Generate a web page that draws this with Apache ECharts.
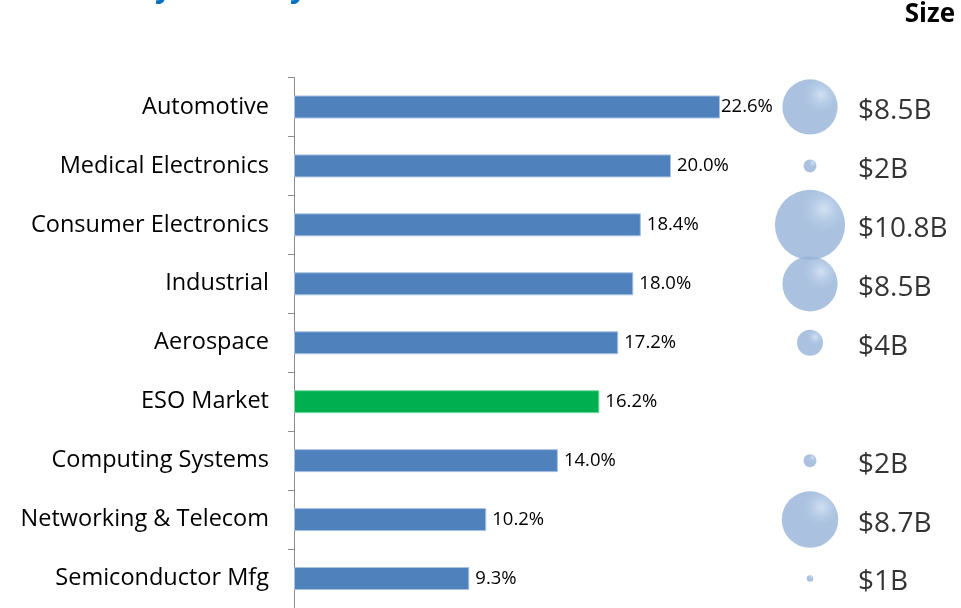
<!DOCTYPE html>
<html>
<head>
<meta charset="utf-8">
<script src="https://cdn.jsdelivr.net/npm/echarts@6/dist/echarts.min.js"></script>
<style>
  html, body { margin: 0; padding: 0; background: #fff; }
  #chart { width: 961px; height: 608px; }
</style>
</head>
<body>
<div id="chart"></div>
<script>
// Industry segments, top to bottom
const categories = [
  'Automotive', 'Medical Electronics', 'Consumer Electronics', 'Industrial',
  'Aerospace', 'ESO Market', 'Computing Systems', 'Networking & Telecom',
  'Semiconductor Mfg'
];
// Growth rate per segment (%)
const growthRates = [22.6, 20.0, 18.4, 18.0, 17.2, 16.2, 14.0, 10.2, 9.3];
// Market size per segment ($B); the ESO Market row has no size bubble
const marketSizes = [8.5, 2, 10.8, 8.5, 4, null, 2, 8.7, 1];
const sizeLabels = ['$8.5B', '$2B', '$10.8B', '$8.5B', '$4B', '', '$2B', '$8.7B', '$1B'];
const highlightCategory = 'ESO Market';

const FONT = '"Open Sans", Lato, sans-serif';
const BAR_BLUE = '#4F81BD';
const BAR_GREEN = '#00B050';

const chart = echarts.init(document.getElementById('chart'), null, { renderer: 'canvas' });

// glossy bubble: flat fill with a small soft highlight towards the upper right
const bubbleFill = new echarts.graphic.RadialGradient(0.7, 0.28, 0.32, [
  { offset: 0, color: '#c6d9ef' },
  { offset: 0.55, color: '#a2bddf' },
  { offset: 1, color: '#95B3D7' }
]);

// bubble rows, skipping segments without a size
const bubbleData = [];
marketSizes.forEach((v, i) => {
  if (v != null) bubbleData.push({ value: [1, categories[i], v], text: sizeLabels[i] });
});

const option = {
  animation: false,
  backgroundColor: '#ffffff',
  graphic: [
    {
      type: 'text',
      x: 16,
      y: -27,
      style: {
        text: 'Growth by Industry',
        font: 'bold 30px ' + FONT,
        fill: '#0070C0'
      }
    },
    {
      type: 'text',
      right: 6,
      top: 2,
      style: { text: 'Size', font: 'bold 26px ' + FONT, fill: '#000' }
    }
  ],
  grid: [
    { left: 294, top: 77.5, width: 565.5, height: 533 },
    { left: 780, top: 77.5, width: 60, height: 533 }
  ],
  xAxis: [
    { gridIndex: 0, type: 'value', min: 0, max: 30, show: false },
    { gridIndex: 1, type: 'value', min: 0, max: 2, show: false }
  ],
  yAxis: [
    {
      gridIndex: 0,
      type: 'category',
      data: categories,
      inverse: true,
      axisLine: { show: true, lineStyle: { color: '#8c8c8c', width: 1 } },
      axisTick: { show: true, length: 6, lineStyle: { color: '#8c8c8c' } },
      axisLabel: { fontFamily: FONT, fontSize: 23.5, color: '#000', margin: 25 },
      splitLine: { show: false }
    },
    {
      gridIndex: 1,
      type: 'category',
      data: categories,
      inverse: true,
      show: false
    }
  ],
  series: [
    {
      type: 'bar',
      xAxisIndex: 0,
      yAxisIndex: 0,
      barWidth: 23,
      data: growthRates.map((v, i) => ({
        value: v,
        itemStyle: {
          color: categories[i] === highlightCategory ? BAR_GREEN : BAR_BLUE,
          borderColor: categories[i] === highlightCategory ? '#7fd7a6' : '#a9c2e2',
          borderWidth: 1
        },
        label: i === 0 ? { distance: 1 } : undefined
      })),
      label: {
        show: true,
        position: 'right',
        distance: 6,
        fontFamily: FONT,
        fontSize: 18.5,
        color: '#000',
        formatter: p => p.value.toFixed(1) + '%'
      }
    },
    {
      type: 'scatter',
      xAxisIndex: 1,
      yAxisIndex: 1,
      data: bubbleData,
      symbol: 'circle',
      symbolSize: val => val[2] * 6.5,
      itemStyle: { color: bubbleFill },
      label: {
        show: true,
        position: 'inside',
        align: 'left',
        offset: [48, 4],
        fontFamily: FONT,
        fontSize: 28,
        color: '#000',
        formatter: p => p.data.text
      }
    }
  ]
};

chart.setOption(option);
</script>
</body>
</html>
